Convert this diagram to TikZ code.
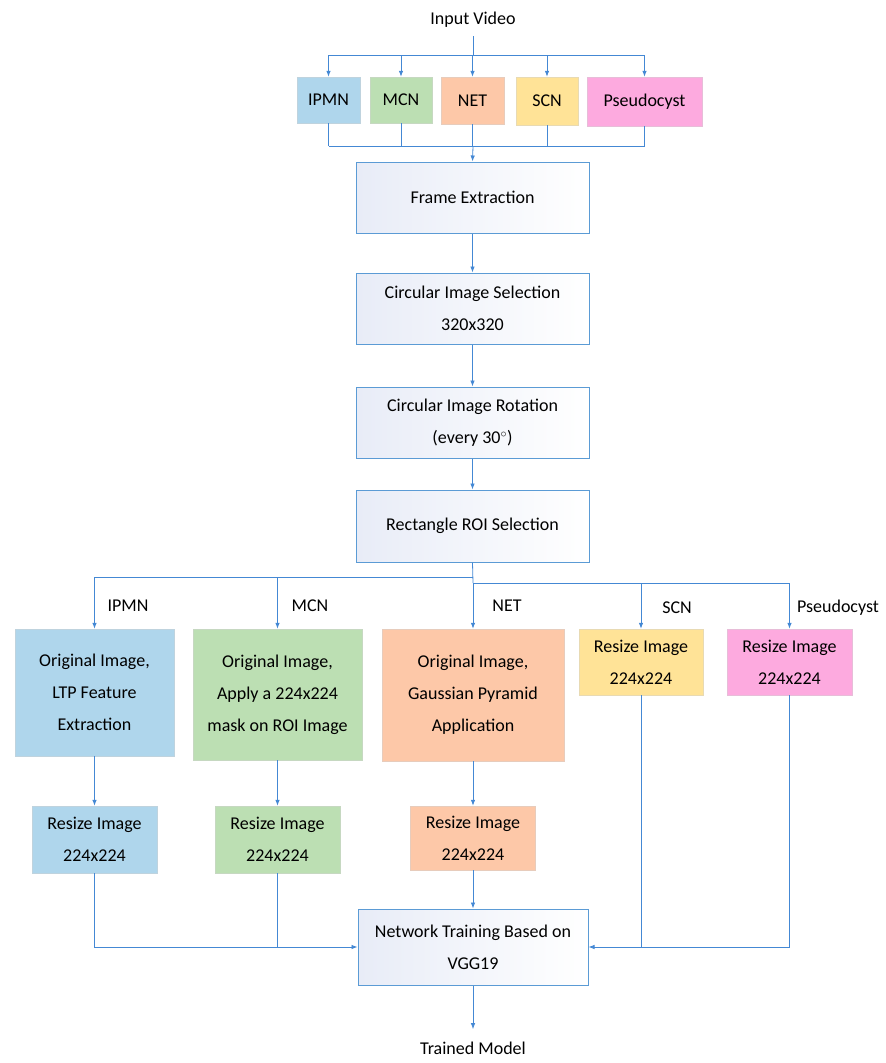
\documentclass[tikz,border=0pt]{standalone}
\usepackage{fontspec}
\setmainfont{Carlito}
\usetikzlibrary{arrows.meta,calc}
\definecolor{lineblue}{RGB}{68,136,212}
\definecolor{boxblue}{RGB}{91,155,213}
\definecolor{cipmn}{RGB}{175,214,236}
\definecolor{cmcn}{RGB}{188,223,179}
\definecolor{cnet}{RGB}{253,200,168}
\definecolor{cscn}{RGB}{255,227,151}
\definecolor{cpseudo}{RGB}{253,170,223}
\definecolor{shadeA}{RGB}{232,236,247}
\tikzset{
  txt/.style={font=\fontsize{18}{32}\selectfont, align=center, text=black},
  mainbox/.style={txt, draw=boxblue, line width=1pt, left color=shadeA, right color=white, inner sep=0pt},
  cbox/.style={txt, fill=#1, draw=#1!85!black!60!white, line width=0.4pt, inner sep=0pt},
  conn/.style={draw=lineblue, line width=0.8pt},
  arr/.style={conn, -{Latex[length=6pt,width=4.5pt]}},
}
\begin{document}
\begin{tikzpicture}[x=1pt,y=-1pt]
\useasboundingbox (0,0) rectangle (886,1063);
% top
\node[txt] (iv) at (473,20) {Input Video};
\node[cbox=cipmn, minimum width=63, minimum height=46] (t1) at (328.5,100) {IPMN};
\node[cbox=cmcn, minimum width=62, minimum height=46] (t2) at (401,100) {MCN};
\node[cbox=cnet, minimum width=63, minimum height=47] (t3) at (472.5,100.5) {NET};
\node[cbox=cscn, minimum width=62, minimum height=48] (t4) at (547,101) {SCN};
\node[cbox=cpseudo, minimum width=115, minimum height=49] (t5) at (644.5,101.5) {Pseudocyst};
\coordinate (bt) at (473,55);
\coordinate (bb) at (473,146);
\draw[conn] ($(iv.south)+(0,5)$) -- (bt);
\draw[conn] (t1.north |- bt) -- (t5.north |- bt);
\foreach \n in {t1,t2,t3,t4,t5} {\draw[arr] (\n.north |- bt) -- (\n.north);}
\foreach \n in {t1,t2,t3,t4,t5} {\draw[conn] (\n.south) -- (\n.south |- bb);}
\draw[conn] (t1.south |- bb) -- (t5.south |- bb);
% main chain
\node[mainbox, minimum width=233, minimum height=71] (fe) at (472.5,197.5) {Frame Extraction};
\node[mainbox, minimum width=233, minimum height=71] (cis) at (472.5,308.5) {Circular Image Selection\\320x320};
\node[mainbox, minimum width=233, minimum height=71] (cir) at (472.5,422.5) {Circular Image Rotation\\(every 30$^{\circ}$)};
\node[mainbox, minimum width=233, minimum height=72] (roi) at (472.5,526) {Rectangle ROI Selection};
\draw[arr] (bb) -- (fe.north);
\draw[arr] (fe) -- (cis);
\draw[arr] (cis) -- (cir);
\draw[arr] (cir) -- (roi);
% middle boxes
\node[cbox=cipmn, minimum width=159, minimum height=127] (m1) at (94.5,692.5) {Original Image,\\LTP Feature\\Extraction};
\node[cbox=cmcn, minimum width=169, minimum height=131] (m2) at (277.5,694.5) {Original Image,\\Apply a 224x224\\mask on ROI Image};
\node[cbox=cnet, minimum width=182, minimum height=132] (m3) at (473,695) {Original Image,\\Gaussian Pyramid\\Application};
\node[cbox=cscn, minimum width=124, minimum height=66] (m4) at (641,662) {Resize Image\\224x224};
\node[cbox=cpseudo, minimum width=125, minimum height=66] (m5) at (789.5,662) {Resize Image\\224x224};
\coordinate (sl) at (473,577);
\coordinate (sr) at (473,583);
\draw[conn] (roi.south) -- (sr);
\draw[conn] (m1.north |- sl) -- (sl);
\draw[conn] (sr) -- (m5.north |- sr);
\draw[arr] (m1.north |- sl) -- (m1.north);
\draw[arr] (m2.north |- sl) -- (m2.north);
\draw[arr] (sr) -- (m3.north);
\draw[arr] (m4.north |- sr) -- (m4.north);
\draw[arr] (m5.north |- sr) -- (m5.north);
\node[txt] (l1) at (128,606) {IPMN};
\node[txt] (l2) at (310,606) {MCN};
\node[txt] (l3) at (507,606) {NET};
\node[txt] (l4) at (677,608) {SCN};
\node[txt] (l5) at (838,608) {Pseudocyst};
% resize boxes
\node[cbox=cipmn, minimum width=125, minimum height=67] (r1) at (94.5,839.5) {Resize Image\\224x224};
\node[cbox=cmcn, minimum width=125, minimum height=67] (r2) at (277.5,839.5) {Resize Image\\224x224};
\node[cbox=cnet, minimum width=125, minimum height=64] (r3) at (473,838) {Resize Image\\224x224};
\draw[arr] (m1) -- (r1);
\draw[arr] (m2) -- (r2);
\draw[arr] (m3) -- (r3);
% network
\node[mainbox, minimum width=230, minimum height=76] (nt) at (473,947) {Network Training Based on\\VGG19};
\draw[arr] (r3) -- (nt);
\draw[arr] (r1.south) |- (nt.west);
\draw[conn] (r2.south) -- (r2.south |- nt.west);
\draw[arr] (m5.south) |- (nt.east);
\draw[conn] (m4.south) -- (m4.south |- nt.east);
\node[txt] (tm) at (473,1048) {Trained Model};
\draw[arr, shorten >=9pt] (nt) -- (tm);
\end{tikzpicture}
\end{document}
